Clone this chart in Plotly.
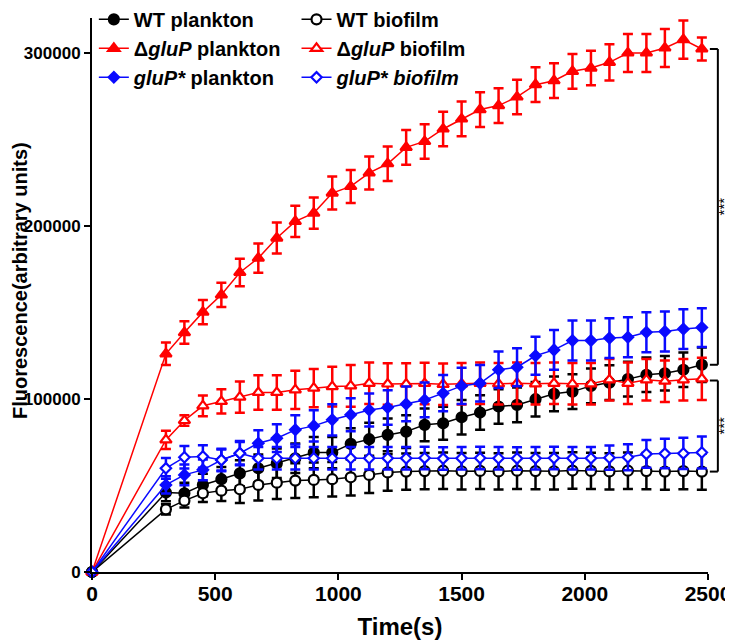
import plotly.graph_objects as go

# ---------------- data ----------------
time_s = [0, 300, 375, 450, 525, 600, 675, 750, 825, 900, 975, 1050, 1125, 1200, 1275,
          1350, 1425, 1500, 1575, 1650, 1725, 1800, 1875, 1950, 2025, 2100, 2175, 2250,
          2325, 2400, 2475]

wt_plankton = [0, 45900, 45500, 50300, 53600, 57000, 59900, 62800, 65700, 69000, 69000,
               74000, 76700, 79200, 81100, 85000, 85900, 89400, 92100, 95600, 96500,
               99800, 102900, 104200, 107500, 109400, 111400, 113900, 114800, 116800, 119700]
wt_plankton_err = [0, 5000, 6000, 6500, 7000, 7500, 8000, 8500, 8500, 9000, 9000,
                   9000, 9500, 9500, 9500, 9500, 9500, 10000, 10000, 10000, 10000,
                   10000, 10000, 10000, 10000, 10000, 10000, 10000, 10000, 10000, 10000]

wt_biofilm = [0, 36200, 41200, 45500, 47000, 47800, 50300, 51600, 52800, 53200, 53600,
              54700, 56100, 57500, 58000, 58300, 58500, 58200, 58400, 58100, 58500,
              58300, 58200, 58600, 58400, 58100, 58500, 58300, 58000, 58300, 58000]
wt_biofilm_err = [0, 3000, 4000, 5000, 6000, 8000, 9000, 9500, 10000, 10000, 10000,
                  10500, 10500, 10500, 10500, 10500, 10500, 10500, 10500, 10500, 10500,
                  10500, 10500, 10500, 10500, 10500, 10500, 10500, 10500, 10500, 10500]

dgluP_plankton = [0, 126000, 138300, 150100, 160100, 173000, 181300, 192900, 202500, 207300,
                  218900, 222700, 230500, 235800, 245300, 248700, 255900, 261700, 267100,
                  269400, 274400, 281500, 283800, 289200, 291100, 294400, 299800, 299800,
                  302700, 307500, 302100]
dgluP_plankton_err = [0, 6500, 6500, 7000, 7000, 8000, 8500, 9000, 9000, 9000, 9500,
                      9500, 9500, 10000, 10000, 10000, 10000, 10000, 10000, 10000, 10000,
                      10000, 10000, 10000, 10000, 10500, 11000, 11000, 11000, 11000, 6700]

dgluP_biofilm = [0, 76300, 87500, 96000, 98500, 101000, 103700, 103700, 105200, 106200,
                 107100, 107500, 109000, 108600, 108600, 108900, 108400, 108700, 109000,
                 108700, 109000, 108700, 109000, 108700, 108700, 111000, 109000, 111000,
                 110200, 111000, 111600]
dgluP_biofilm_err = [0, 5300, 3000, 6000, 7000, 9000, 10000, 10000, 11000, 11000, 11500,
                     12000, 12000, 12000, 12000, 12000, 12000, 12000, 12000, 12000, 12000,
                     12000, 12000, 12000, 12000, 12000, 12000, 12000, 12000, 12000, 12200]

gluPs_plankton = [0, 50300, 56100, 59000, 64700, 68600, 74400, 77300, 82100, 84400, 87900,
                  90800, 93600, 95000, 97100, 99400, 103300, 107500, 109000, 116800, 118300,
                  124900, 128300, 133700, 133700, 135100, 135600, 138500, 138900, 140300, 141200]
gluPs_plankton_err = [0, 5000, 6000, 6000, 6000, 7000, 7500, 8000, 8500, 9000, 9000,
                      9500, 9500, 10000, 10000, 10000, 10500, 10500, 10500, 10500, 11000,
                      11000, 11500, 11500, 11500, 11500, 11500, 11500, 11500, 11500, 11200]

gluPs_biofilm = [0, 59900, 66300, 66700, 64700, 68600, 65700, 65700, 65700, 65700, 65700,
                 65700, 65700, 65700, 65700, 65900, 65500, 65700, 65800, 65700, 65600,
                 65700, 65800, 65700, 65700, 66000, 66300, 68200, 68400, 68500, 69000]
gluPs_biofilm_err = [0, 6000, 6500, 6500, 6500, 6500, 6500, 6500, 6500, 6500, 6500,
                     6500, 6500, 6500, 6500, 6500, 6500, 6500, 6500, 6500, 6500,
                     6500, 6500, 6500, 6500, 7000, 7500, 8000, 8500, 9000, 9200]

x_ticks = [0, 500, 1000, 1500, 2000, 2500]
y_ticks = [0, 100000, 200000, 300000]

FONT = "Liberation Sans, Arial, sans-serif"
RED = "#ff0000"
BLUE = "#0a0aff"
BLACK = "#000000"

series = [
    ("WT plankton", wt_plankton, wt_plankton_err, BLACK, "circle", BLACK, 10, "legend"),
    ("WT biofilm", wt_biofilm, wt_biofilm_err, BLACK, "circle", "white", 10, "legend2"),
    ("\u0394<i>gluP</i> plankton", dgluP_plankton, dgluP_plankton_err, RED, "triangle-up", RED, 10, "legend"),
    ("\u0394<i>gluP</i> biofilm", dgluP_biofilm, dgluP_biofilm_err, RED, "triangle-up", "white", 10, "legend2"),
    ("<i>gluP*</i> plankton", gluPs_plankton, gluPs_plankton_err, BLUE, "diamond", BLUE, 8, "legend"),
    ("<i>gluP* biofilm</i>", gluPs_biofilm, gluPs_biofilm_err, BLUE, "diamond", "white", 8, "legend2"),
]

fig = go.Figure()
for i, (name, y, err, col, sym, fill, size, leg) in enumerate(series):
    fig.add_trace(go.Scatter(
        x=time_s, y=y, name=name, mode="lines+markers",
        line=dict(color=col, width=1.5),
        marker=dict(symbol=sym, size=size, color=fill, line=dict(color=col, width=2.2)),
        error_y=dict(type="data", array=err, visible=True, color=col, thickness=2.5, width=5),
        legend=leg, legendgroup=f"g{i}", cliponaxis=False,
    ))

# significance brackets, anchored on the final values of the series
def bracket(y_top, y_bot):
    x_tick = 1.003
    x_v = 1.016
    common = dict(xref="paper", yref="y", line=dict(color="black", width=2))
    fig.add_shape(type="line", x0=x_tick, x1=x_v, y0=y_top, y1=y_top, **common)
    fig.add_shape(type="line", x0=x_v, x1=x_v, y0=y_top, y1=y_bot, **common)
    fig.add_shape(type="line", x0=x_tick, x1=x_v, y0=y_bot, y1=y_bot, **common)
    fig.add_annotation(x=1.0252, y=(y_top + y_bot) / 2, xref="paper", yref="y",
                       xanchor="center", yanchor="middle",
                       text="***", textangle=-90, showarrow=False,
                       font=dict(family=FONT, size=15, color="black"))

bracket(dgluP_plankton[-1], wt_plankton[-1])
bracket(dgluP_biofilm[-1] - 1000, wt_biofilm[-1])

# y-axis title placed as a rotated annotation
fig.add_annotation(x=-0.1169, y=0.527, xref="paper", yref="paper",
                   xanchor="center", yanchor="middle", textangle=-90,
                   text="Fluorescence(arbitrary units)", showarrow=False,
                   font=dict(family=FONT, size=20, color="black", weight="bold"))

legend_common = dict(
    font=dict(family=FONT, size=20, color="black", weight="bold"),
    bgcolor="rgba(0,0,0,0)", borderwidth=0, orientation="v",
    yanchor="top", xanchor="left", tracegroupgap=0, itemwidth=30,
)

# page body adds an 8px offset, so the figure is 8px smaller and margins shifted
fig.update_layout(
    width=725, height=632,
    margin=dict(l=84, r=25, t=10, b=68, autoexpand=False),
    paper_bgcolor="white", plot_bgcolor="white",
    font=dict(family=FONT, color="black"),
    legend=dict(x=0.003, y=1.0328, **legend_common),
    legend2=dict(x=0.332, y=1.0328, **legend_common),
    xaxis=dict(
        range=[0, 2500], tickvals=x_ticks, ticktext=[str(v) for v in x_ticks],
        showline=True, linecolor="black", linewidth=2, mirror=False,
        ticks="outside", ticklen=6, tickwidth=2, tickcolor="black",
        showgrid=False, zeroline=False, automargin=False, ticklabelstandoff=-4,
        tickfont=dict(family=FONT, size=21, color="black", weight="bold"),
        title=dict(text="Time(s)", standoff=16,
                   font=dict(family=FONT, size=24, color="black", weight="bold")),
    ),
    yaxis=dict(
        range=[0, 320000], tickvals=y_ticks, tickformat="d",
        showline=True, linecolor="black", linewidth=2, mirror=False,
        ticks="outside", ticklen=6, tickwidth=2, tickcolor="black",
        showgrid=False, zeroline=False, automargin=False,
        tickfont=dict(family=FONT, size=17, color="black", weight="bold"),
    ),
)

fig.write_html("out.html")
